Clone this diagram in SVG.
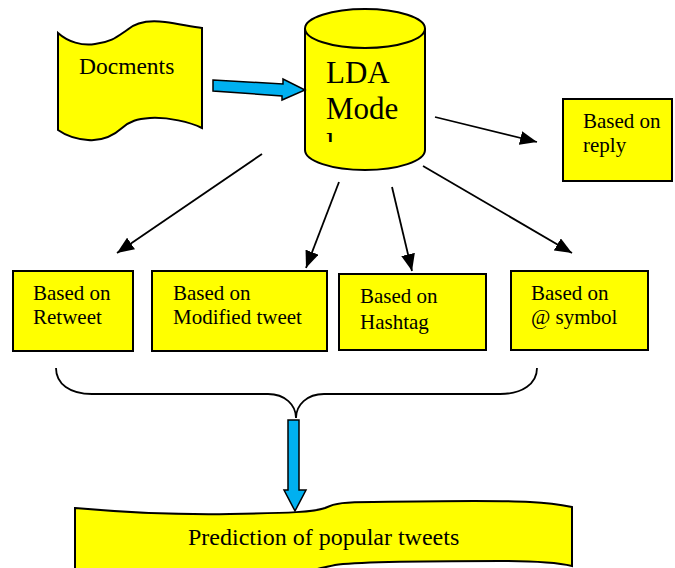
<svg xmlns="http://www.w3.org/2000/svg" width="675" height="568" viewBox="0 0 675 568">
<style>
.shape{fill:#FFFF00;stroke:#000;stroke-width:2}
.blue{fill:#00B0F0;stroke:#000;stroke-width:1.5}
.t{font-family:"Liberation Serif","Times New Roman",serif;fill:#000}
.lbl{font-size:21px}
.conn{stroke:#000;stroke-width:1.8;fill:none}
</style>
<defs>
<marker id="ah" markerUnits="userSpaceOnUse" markerWidth="18" markerHeight="14" refX="17" refY="7" orient="auto">
<path d="M0,0 L17,7 L0,14 Z" fill="#000"/>
</marker>
<clipPath id="ldaclip"><rect x="305" y="40" width="120" height="102"/></clipPath>
</defs>
<rect width="675" height="568" fill="#fff"/>
<g id="documents">
<path class="shape" d="M58,33 C68,42 82,46 95,44 C112,42 118,36 127,30 C136,22 150,20 165,22 C180,24 192,27 202,28 L202,128 C190,122 168,117 150,118 C137,119 130,121 122,128 C112,137 100,141 88,140 C75,139 65,135 58,130 Z"/>
<text class="t" x="79" y="74" font-size="23.5">Docments</text>
</g>
<g id="lda">
<path class="shape" d="M305,28.5 L305,150 A60,20 0 0 0 425,150 L425,28.5"/>
<ellipse class="shape" cx="365" cy="28.5" rx="60" ry="19.5"/>
<g clip-path="url(#ldaclip)">
<text class="t" x="326" y="83" font-size="31">LDA</text>
<text class="t" x="326" y="119" font-size="31">Mode</text>
<text class="t" x="326" y="155" font-size="31">l</text>
</g>
</g>
<g id="reply">
<rect class="shape" x="563" y="99" width="109" height="82"/>
<text class="t lbl" x="583" y="128">Based on</text>
<text class="t lbl" x="583" y="152">reply</text>
</g>
<g id="retweet">
<rect class="shape" x="13" y="271" width="120" height="80"/>
<text class="t lbl" x="33" y="300">Based on</text>
<text class="t lbl" x="33" y="324">Retweet</text>
</g>
<g id="modified">
<rect class="shape" x="152" y="271" width="175" height="80"/>
<text class="t lbl" x="173" y="300">Based on</text>
<text class="t lbl" x="173" y="324">Modified tweet</text>
</g>
<g id="hashtag">
<rect class="shape" x="339" y="274" width="147" height="76"/>
<text class="t lbl" x="360" y="303">Based on</text>
<text class="t lbl" x="360" y="329">Hashtag</text>
</g>
<g id="symbol">
<rect class="shape" x="511" y="271" width="137" height="79"/>
<text class="t lbl" x="531" y="300">Based on</text>
<text class="t lbl" x="531" y="324">@ symbol</text>
</g>
<g id="prediction">
<path class="shape" d="M75,508 C120,512 170,515 230,514 C290,513 315,512 325,508 C335,503 345,502 373,502 C430,501 500,500 530,502 C550,503 562,505 572,507 L572,566 C555,562 530,561 500,561 C440,561 360,561 335,565 C320,568 300,575 260,576 L75,576 Z"/>
<text class="t" x="188" y="545" font-size="24">Prediction of popular tweets</text>
</g>
<g id="connectors">
<polygon class="blue" points="213,80 283,84 283,79 305,90 282,100 282,96 213,91"/>
<line class="conn" x1="435" y1="117" x2="537" y2="142" marker-end="url(#ah)"/>
<line class="conn" x1="262" y1="154" x2="117" y2="253" marker-end="url(#ah)"/>
<line class="conn" x1="339" y1="182" x2="306" y2="268" marker-end="url(#ah)"/>
<line class="conn" x1="392" y1="187" x2="412" y2="271" marker-end="url(#ah)"/>
<line class="conn" x1="423" y1="166" x2="572" y2="253" marker-end="url(#ah)"/>
<path class="conn" stroke-width="1.5" d="M56,368 C56,384 70,394 92,394 L268,394 C285,394 296,405 296,418 C296,405 307,394 324,394 L500,394 C522,394 537,384 537,368"/>
<polygon class="blue" points="288,420 299,420 299,490 306,490 295,511 284,490 288,490"/>
</g>
</svg>
